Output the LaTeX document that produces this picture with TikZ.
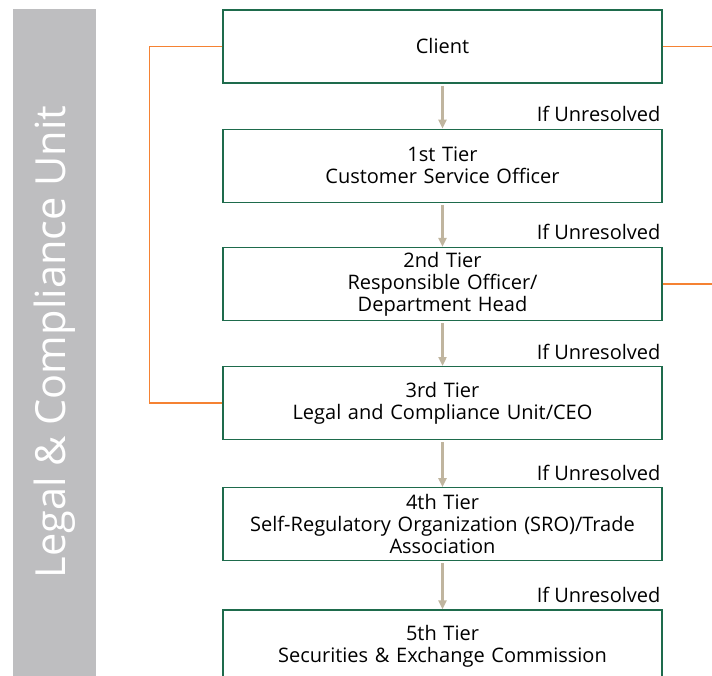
\documentclass[tikz,border=0pt]{standalone}
\usepackage{fontspec}
\setmainfont{Open Sans}
\usetikzlibrary{positioning,arrows.meta}
\definecolor{boxgreen}{HTML}{1E6B4C}
\definecolor{unitgray}{HTML}{BEBEC0}
\definecolor{linkorange}{HTML}{F58233}
\definecolor{arrowtan}{HTML}{C0B59F}

\begin{document}
\begin{tikzpicture}[x=1pt,y=-1pt,
    every node/.style={font=\fontsize{20}{22}\selectfont},
    tier/.style={draw=boxgreen,line width=1.2pt,minimum width=439pt,minimum height=73pt,text width=430pt,align=center,inner sep=0pt},
    unresolved/.style={anchor=base east,inner sep=0pt},
    escalate/.style={draw=arrowtan,line width=3pt,-{Triangle[width=8pt,length=9pt]},shorten <=2pt},
    link/.style={draw=linkorange,line width=1.3pt}
    ]

    \useasboundingbox (0,0) rectangle (712,676);
    \fill[unitgray] (13,9) rectangle (96,676);
    \node[rotate=90,text=white,font=\fontsize{41.5}{44}\selectfont] (unit) at (55,342) {Legal \& Compliance Unit};

    \node[tier] (client) at (442.5,46.5) {Client};
    \node[tier,below=45pt of client] (tier1) {1st Tier\\Customer Service Officer};
    \node[tier,below=44pt of tier1] (tier2) {2nd Tier\\Responsible Officer/\\Department Head};
    \node[tier,below=45pt of tier2] (tier3) {3rd Tier\\Legal and Compliance Unit/CEO};
    \node[tier,below=47pt of tier3] (tier4) {4th Tier\\Self-Regulatory Organization (SRO)/Trade\\Association};
    \node[tier,below=48pt of tier4] (tier5) {5th Tier\\Securities \& Exchange Commission};

    % escalation arrows and labels
    \foreach \from/\to in {client/tier1,tier1/tier2,tier2/tier3,tier3/tier4,tier4/tier5}{
      \draw[escalate] (\from) -- (\to);
      \node[unresolved] at ([xshift=-2pt,yshift=7pt]\to.north east) {If Unresolved};
    }

    % orange links
    \coordinate (clientout) at (712,46.5);
    \coordinate (tier2out) at (tier2.east -| clientout);
    \draw[link] (client.west) -- ++(-73,0) |- (tier3.west);
    \draw[link] (client.east) -- (clientout);
    \draw[link] (tier2.east) -- (tier2out);
  \end{tikzpicture}
\end{document}
